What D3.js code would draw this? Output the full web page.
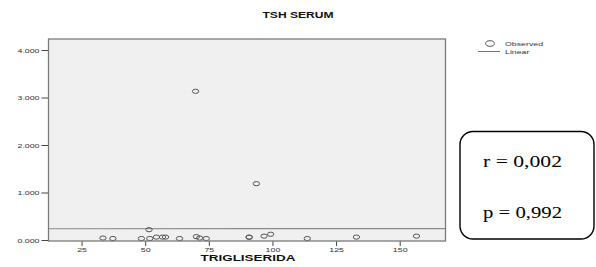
<!DOCTYPE html>
<html>
<head>
<meta charset="utf-8">
<script src="https://cdn.jsdelivr.net/npm/d3@7"></script>
<style>
  body { margin: 0; background: #fff; }
  svg { display: block; }
</style>
</head>
<body>
<div id="chart"></div>
<script>
// observed points (trigliserida, tsh serum)
var trigValues = [33.4, 37.3, 48.5, 51.5, 51.8, 54.4, 56.8, 58.0, 63.5, 69.8, 70.1, 71.4, 74.0, 90.8, 90.9, 93.7, 96.7, 99.3, 113.7, 133.0, 156.6];
var tshValues  = [0.02, 0.01, 0.01, 0.196, 0.01, 0.04, 0.04, 0.04, 0.01, 3.11, 0.05, 0.02, 0.01, 0.04, 0.035, 1.165, 0.06, 0.10, 0.01, 0.04, 0.06];
// linear fit
var lineIntercept = 0.237;
var lineSlope = 0.00002;
var xTicks = [25, 50, 75, 100, 125, 150];
var yTicks = [0, 1, 2, 3, 4];
var yTickLabels = ["0.000", "1.000", "2.000", "3.000", "4.000"];
var legendLabels = ["Observed", "Linear"];
var statLines = ["r = 0,002", "p = 0,992"];

var width = 596, height = 267;
var stretch = 1.42; // picture is stretched sideways

var svg = d3.select("#chart").append("svg")
    .attr("width", width)
    .attr("height", height);

var plot = {left: 48.5, right: 445.5, top: 39, bottom: 241};

var x = d3.scaleLinear().domain([12, 168]).range([plot.left, plot.right]);
var y = d3.scaleLinear().domain([-0.021, 4.232]).range([plot.bottom, plot.top]);

// plot background
svg.append("rect")
    .attr("x", plot.left).attr("y", plot.top)
    .attr("width", plot.right - plot.left)
    .attr("height", plot.bottom - plot.top)
    .attr("fill", "#f0f0f0");

// title
svg.append("text")
    .attr("class", "stretch")
    .attr("x", 298).attr("y", 18)
    .attr("text-anchor", "middle")
    .attr("font-family", "Arial, 'Liberation Sans', sans-serif")
    .attr("font-weight", "bold")
    .attr("font-size", 8.5)
    .attr("fill", "#111")
    .text("TSH SERUM");

// axes
var xAxis = svg.append("g")
    .attr("transform", "translate(0," + plot.bottom + ")")
    .call(d3.axisBottom(x).tickValues(xTicks).tickSize(5).tickPadding(2).tickSizeOuter(0));
var yAxis = svg.append("g")
    .attr("transform", "translate(" + plot.left + ",0)")
    .call(d3.axisLeft(y).tickValues(yTicks).tickSize(7).tickPadding(2).tickSizeOuter(0)
        .tickFormat(function(d, i) { return yTickLabels[i]; }));
[xAxis, yAxis].forEach(function(g) {
    g.select(".domain").remove();
    g.selectAll("line").attr("stroke", "#444").attr("stroke-width", 1);
    g.selectAll("text")
        .attr("class", "stretch")
        .attr("font-family", "Arial, 'Liberation Sans', sans-serif")
        .attr("font-size", 6.2)
        .attr("fill", "#333");
});
yAxis.selectAll("text").attr("dy", "0.35em");

// regression line
var xd = x.domain();
svg.append("line")
    .attr("x1", x(xd[0])).attr("x2", x(xd[1]))
    .attr("y1", y(lineIntercept + lineSlope * xd[0]))
    .attr("y2", y(lineIntercept + lineSlope * xd[1]))
    .attr("stroke", "#8a8a8a")
    .attr("stroke-width", 1.2);

// observed points
svg.selectAll(".pt")
    .data(trigValues)
    .enter()
    .append("ellipse")
    .attr("class", "pt")
    .attr("cx", function(d) { return x(d); })
    .attr("cy", function(d, i) { return y(tshValues[i]) - 1; })
    .attr("rx", 3.2)
    .attr("ry", 2.1)
    .attr("fill", "none")
    .attr("stroke", "#555")
    .attr("stroke-width", 1);

// plot border
svg.append("rect")
    .attr("x", plot.left).attr("y", plot.top)
    .attr("width", plot.right - plot.left)
    .attr("height", plot.bottom - plot.top)
    .attr("fill", "none")
    .attr("stroke", "#7a7a7a")
    .attr("stroke-width", 1.3);

// x label
svg.append("text")
    .attr("class", "stretch")
    .attr("x", 248).attr("y", 261)
    .attr("text-anchor", "middle")
    .attr("font-family", "Arial, 'Liberation Sans', sans-serif")
    .attr("font-weight", "bold")
    .attr("font-size", 9.5)
    .attr("fill", "#111")
    .text("TRIGLISERIDA");

// legend
var legend = svg.append("g");
legend.append("ellipse")
    .attr("cx", 490).attr("cy", 43.5)
    .attr("rx", 4.3).attr("ry", 2.8)
    .attr("fill", "none").attr("stroke", "#555").attr("stroke-width", 1);
legend.append("line")
    .attr("x1", 478).attr("x2", 500)
    .attr("y1", 51.5).attr("y2", 51.5)
    .attr("stroke", "#777").attr("stroke-width", 1);
legend.selectAll(".lg")
    .data(legendLabels)
    .enter()
    .append("text")
    .attr("class", "stretch")
    .attr("x", 505)
    .attr("y", function(d, i) { return 46 + i * 8; })
    .attr("font-family", "Arial, 'Liberation Sans', sans-serif")
    .attr("font-size", 6.2)
    .attr("fill", "#333")
    .text(function(d) { return d; });

// stats box
svg.append("rect")
    .attr("x", 460).attr("y", 131.5)
    .attr("width", 134).attr("height", 107.5)
    .attr("rx", 13).attr("ry", 13)
    .attr("fill", "#fff")
    .attr("stroke", "#000")
    .attr("stroke-width", 1.4);
svg.selectAll(".stat")
    .data(statLines)
    .enter()
    .append("text")
    .attr("class", "stat")
    .attr("x", 483)
    .attr("y", function(d, i) { return 167 + i * 51; })
    .attr("font-family", "'Liberation Serif', 'Times New Roman', serif")
    .attr("font-size", 16)
    .attr("fill", "#000")
    .text(function(d) { return d; });

// widen text to match the stretched original
svg.selectAll("text.stretch").each(function() {
    var w = this.getComputedTextLength();
    d3.select(this).attr("textLength", w * stretch).attr("lengthAdjust", "spacingAndGlyphs");
});
svg.selectAll("text.stat").each(function() {
    var w = this.getComputedTextLength();
    d3.select(this).attr("textLength", 79).attr("lengthAdjust", "spacingAndGlyphs");
});
</script>
</body>
</html>
